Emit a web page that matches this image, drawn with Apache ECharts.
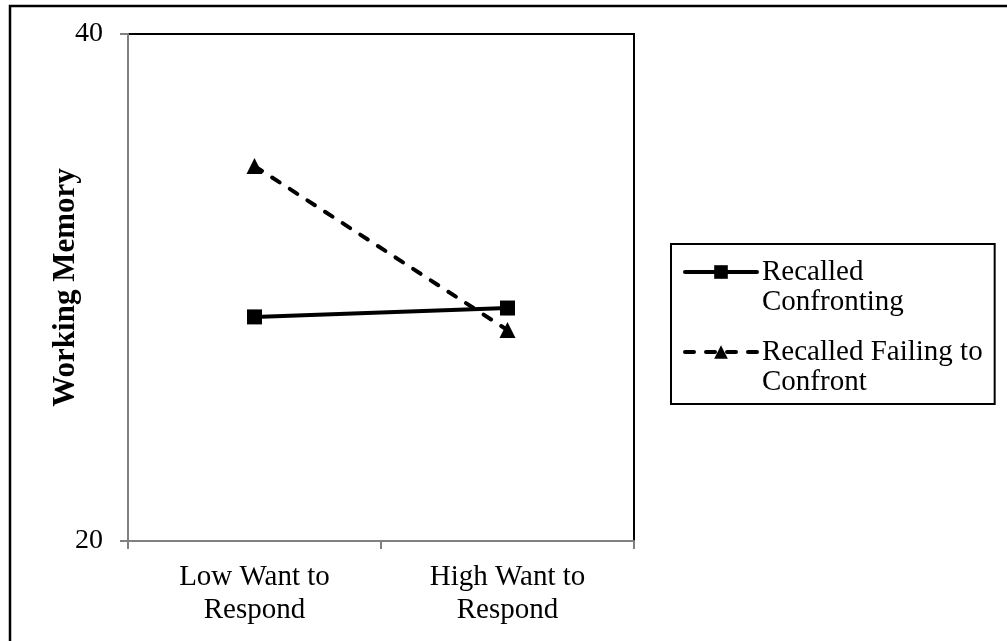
<!DOCTYPE html>
<html>
<head>
<meta charset="utf-8">
<script src="https://cdn.jsdelivr.net/npm/echarts@6/dist/echarts.min.js"></script>
<style>
html,body{margin:0;padding:0;background:#fff;}
#chart{width:1007px;height:641px;}
</style>
</head>
<body>
<div id="chart"></div>
<script>
var categories = ['Low Want to\nRespond', 'High Want to\nRespond'];
var seriesNames = ['Recalled Confronting', 'Recalled Failing to Confront'];
var legendLabels = ['Recalled\nConfronting', 'Recalled Failing to\nConfront'];
var confronting = [28.84, 29.19];
var failing = [34.79, 28.32];
var yTicks = [20, 40];

var FONT = "'Liberation Serif', 'Times New Roman', serif";
var chart = echarts.init(document.getElementById('chart'), null, {renderer: 'canvas'});
chart.setOption({
  backgroundColor: '#fff',
  animation: false,
  textStyle: {fontFamily: FONT, color: '#000'},
  graphic: [{
    type: 'rect',
    shape: {x: 10, y: 6, width: 1100, height: 1000},
    style: {fill: 'none', stroke: '#000', lineWidth: 2.5},
    silent: true, z: 100
  }],
  grid: {
    left: 128, top: 34, right: 373, bottom: 100,
    show: true, borderColor: '#000', borderWidth: 2, backgroundColor: 'transparent'
  },
  legend: {
    orient: 'vertical',
    left: 671, top: 244,
    padding: [-17, 12, 7, 12],
    itemGap: -10,
    itemWidth: 72, itemHeight: 17,
    borderColor: '#000', borderWidth: 2,
    lineStyle: {width: 4, cap: 'round'},
    formatter: function (name) { return '\n' + legendLabels[seriesNames.indexOf(name)]; },
    textStyle: {fontFamily: FONT, fontSize: 29, color: '#000', lineHeight: 30},
    data: seriesNames
  },
  xAxis: {
    type: 'category',
    data: categories,
    boundaryGap: true,
    axisLine: {lineStyle: {color: '#808080', width: 2}},
    axisTick: {show: true, length: 8, lineStyle: {color: '#808080', width: 2}},
    axisLabel: {fontFamily: FONT, fontSize: 29, color: '#000', lineHeight: 33, margin: 20, interval: 0},
    splitLine: {show: false}
  },
  yAxis: {
    type: 'value',
    min: yTicks[0], max: yTicks[1], interval: yTicks[1] - yTicks[0],
    name: 'Working Memory',
    nameLocation: 'middle',
    nameGap: 47,
    nameMoveOverlap: false,
    nameTextStyle: {fontFamily: FONT, fontSize: 31, fontWeight: 'bold', color: '#000'},
    axisLine: {show: true, lineStyle: {color: '#808080', width: 2}},
    axisTick: {show: true, length: 8, lineStyle: {color: '#808080', width: 2}},
    axisLabel: {fontFamily: FONT, fontSize: 28, color: '#000', margin: 25},
    splitLine: {show: false}
  },
  series: [{
    name: seriesNames[0],
    type: 'line',
    data: confronting,
    symbol: 'rect', symbolSize: 15,
    lineStyle: {color: '#000', width: 4},
    itemStyle: {color: '#000'}
  }, {
    name: seriesNames[1],
    type: 'line',
    data: failing,
    symbol: 'triangle', symbolSize: 16,
    lineStyle: {color: '#000', width: 4, type: [9, 12], cap: 'round'},
    itemStyle: {color: '#000'}
  }]
});
</script>
</body>
</html>
